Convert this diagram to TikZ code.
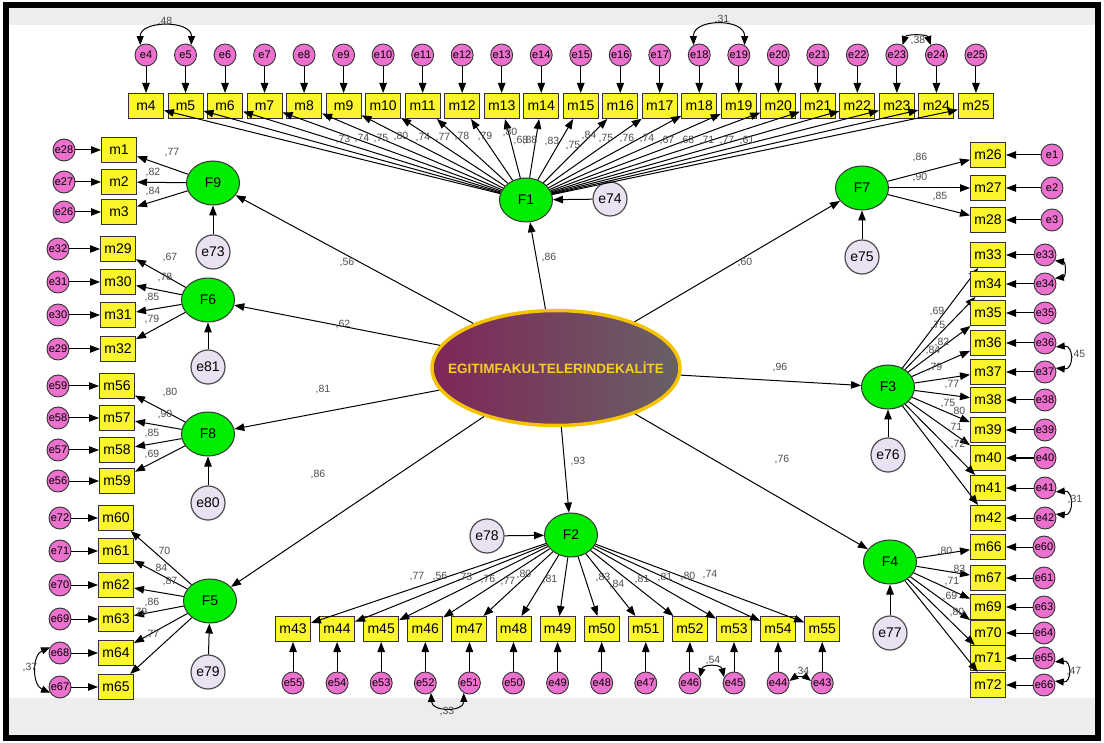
\documentclass[tikz,border=0pt]{standalone}
\usepackage{fontspec}
\setmainfont{Liberation Sans}
\usetikzlibrary{arrows.meta,shapes.geometric}
\definecolor{errpink}{RGB}{236,112,205}
\definecolor{lav}{RGB}{234,226,243}
\definecolor{facgreen}{RGB}{0,236,0}
\definecolor{boxyel}{RGB}{250,245,45}
\definecolor{cgold}{RGB}{245,195,0}
\definecolor{ctext}{RGB}{245,205,40}
\definecolor{cleft}{RGB}{128,38,88}
\definecolor{cright}{RGB}{104,96,102}
\begin{document}
\begin{tikzpicture}[x=1pt,y=-1pt,
  ind/.style={draw=black!80, fill=boxyel, line width=1pt, minimum width=35pt, minimum height=25pt, inner sep=0pt, font=\fontsize{14}{14}\selectfont},
  err/.style={circle, draw=black!80, fill=errpink, line width=0.9pt, minimum size=22pt, inner sep=0pt, font=\fontsize{11}{11}\selectfont},
  lerr/.style={circle, draw=black!70, fill=lav, line width=1.2pt, minimum size=34pt, inner sep=0pt, font=\fontsize{14}{14}\selectfont},
  fac/.style={ellipse, draw=black!80, fill=facgreen, line width=1pt, minimum width=53pt, minimum height=44pt, inner sep=0pt, font=\fontsize{14}{14}\selectfont},
  arr/.style={-{Triangle[length=10pt,width=7.5pt]}, line width=1pt, black},
  cov/.style={{Triangle[length=9pt,width=7pt]}-{Triangle[length=9pt,width=7pt]}, line width=1pt, black},
  lbl/.style={font=\fontsize{10.5}{10.5}\selectfont, text=black!70, inner sep=0pt},
]
% frame
\fill[white] (0,0) rectangle (1104,743);
\fill[black!7] (9,8) rectangle (1095,25);
\fill[black!7] (9,698) rectangle (1095,735);
\draw[line width=6pt] (6,5.5) rectangle (1098,738);
\useasboundingbox (0,0) rectangle (1104,743);

% central
\node[ellipse, minimum width=248pt, minimum height=115pt, draw=cgold, line width=3.5pt,
  left color=cleft, right color=cright, inner sep=0pt] (C) at (556,368) {};
\node[text=ctext, inner sep=0pt, font=\bfseries\fontsize{13.5}{13.5}\selectfont] (CT) at (556,368) {EGITIMFAKULTELERINDEKALİTE};

% factors
\node[fac] (F1) at (526,200) {F1};
\node[fac] (F9) at (213,183) {F9};
\node[fac] (F6) at (208,300) {F6};
\node[fac] (F8) at (208,434) {F8};
\node[fac] (F5) at (210,601) {F5};
\node[fac] (F2) at (571,535) {F2};
\node[fac] (F7) at (862,188) {F7};
\node[fac] (F3) at (888,387) {F3};
\node[fac] (F4) at (890,562) {F4};

% latent errors
\node[lerr] (e74) at (610,199) {e74};
\node[lerr] (e73) at (213,252) {e73};
\node[lerr] (e81) at (208,367) {e81};
\node[lerr] (e80) at (208,503) {e80};
\node[lerr] (e79) at (208,672) {e79};
\node[lerr] (e78) at (487,536) {e78};
\node[lerr] (e75) at (862,257) {e75};
\node[lerr] (e76) at (888,455) {e76};
\node[lerr] (e77) at (890,633) {e77};
\foreach \a/\b in {e74/F1,e73/F9,e81/F6,e80/F8,e79/F5,e78/F2,e75/F7,e76/F3,e77/F4}
  \draw[arr] (\a) -- (\b);

% structural paths
\foreach \b in {F1,F9,F6,F8,F5,F2,F7,F3,F4}
  \draw[arr] (C) -- (\b);
\node[lbl] at (549,258) {,86};
\node[lbl] at (347,263) {,56};
\node[lbl] at (343,325) {,62};
\node[lbl] at (323,390) {,81};
\node[lbl] at (318,475) {,86};
\node[lbl] at (578,462) {,93};
\node[lbl] at (745,263) {,60};
\node[lbl] at (780,368) {,96};
\node[lbl] at (782,460) {,76};

% top row F1
\foreach \i in {4,...,25} {
  \pgfmathsetmacro\xx{146+(\i-4)*39.52}
  \node[ind] (m\i) at (\xx,106) {m\i};
  \node[err] (e\i) at (\xx,55) {e\i};
  \draw[arr] (e\i) -- (m\i);
}
\foreach \i in {4,...,25} \draw[arr] (F1) -- (m\i);
\foreach \t/\x/\y in {73/343/140,74/362/139,75/381/139,80/401/137,74/423/138,77/443/138,78/462/137,79/485/137,80/510/133,68/521/141,88/530/141,83/552/142,75/573/146,84/589/136,75/606/139,76/627/139,74/647/139,67/667/141,68/687/141,71/707/141,77/727/141,61/747/141}
  \node[lbl] at (\x,\y) {,\t};
\draw[cov] (e4.120) .. controls (140,20) and (192,20) .. (e5.60);
\node[lbl] at (165,22) {,48};
\draw[cov] (e18.120) .. controls (693,18) and (745,18) .. (e19.60);
\node[lbl] at (722,20) {,31};
\draw[cov] (e23.60) .. controls (906,34) and (927,34) .. (e24.120);
\node[lbl] at (918,41) {,38};

% F9
\foreach \m/\e/\y in {1/28/150,2/27/182,3/26/212} {
  \node[ind] (m\m) at (119,\y) {m\m};
  \node[err] (e\e) at (64,\y) {e\e};
  \draw[arr] (e\e) -- (m\m);
  \draw[arr] (F9) -- (m\m);
}
\node[lbl] at (172,153) {,77};
\node[lbl] at (153,173) {,82};
\node[lbl] at (153,192) {,84};

% F6
\foreach \m/\e/\y in {29/32/249,30/31/282,31/30/315,32/29/349} {
  \node[ind] (m\m) at (118,\y) {m\m};
  \node[err] (e\e) at (58,\y) {e\e};
  \draw[arr] (e\e) -- (m\m);
  \draw[arr] (F6) -- (m\m);
}
\node[lbl] at (170,258) {,67};
\node[lbl] at (165,278) {,78};
\node[lbl] at (152,298) {,85};
\node[lbl] at (152,320) {,79};

% F8
\foreach \m/\e/\y in {56/59/386,57/58/418,58/57/450,59/56/481} {
  \node[ind] (m\m) at (117,\y) {m\m};
  \node[err] (e\e) at (58,\y) {e\e};
  \draw[arr] (e\e) -- (m\m);
  \draw[arr] (F8) -- (m\m);
}
\node[lbl] at (170,393) {,80};
\node[lbl] at (165,415) {,90};
\node[lbl] at (152,434) {,85};
\node[lbl] at (152,455) {,69};

% F5
\foreach \m/\e/\y in {60/72/518,61/71/551,62/70/585,63/69/619,64/68/653,65/67/687} {
  \node[ind] (m\m) at (116,\y) {m\m};
  \node[err] (e\e) at (60,\y) {e\e};
  \draw[arr] (e\e) -- (m\m);
  \draw[arr] (F5) -- (m\m);
}
\node[lbl] at (163,552) {,70};
\node[lbl] at (160,569) {,84};
\node[lbl] at (170,582) {,87};
\node[lbl] at (152,603) {,86};
\node[lbl] at (140,613) {,79};
\node[lbl] at (152,635) {,77};
\draw[cov] (e68.150) .. controls (32,655) and (32,685) .. (e67.210);
\node[lbl] at (30,668) {,37};

% F7
\foreach \m/\e/\y in {26/1/155,27/2/188,28/3/220} {
  \node[ind] (m\m) at (988,\y) {m\m};
  \node[err] (e\e) at (1052,\y) {e\e};
  \draw[arr] (e\e) -- (m\m);
  \draw[arr] (F7) -- (m\m);
}
\node[lbl] at (920,158) {,86};
\node[lbl] at (920,178) {,90};
\node[lbl] at (940,197) {,85};

% F3
\foreach \m/\y in {33/255,34/284,35/313,36/343,37/372,38/400,39/430,40/458,41/488,42/518} {
  \node[ind] (m\m) at (988,\y) {m\m};
  \node[err] (e\m) at (1045,\y) {e\m};
  \draw[arr] (e\m) -- (m\m);
  \draw[arr] (F3) -- (m\m);
}
\foreach \t/\x/\y in {69/937/312,75/938/326,82/942/343,84/933/351,79/935/368,77/952/385,75/948/404,80/958/412,71/955/428,72/958/445}
  \node[lbl] at (\x,\y) {,\t};
\draw[cov] (e33.-30) .. controls (1066,262) and (1066,277) .. (e34.30);
\draw[cov] (e36.-20) .. controls (1074,345) and (1074,370) .. (e37.20);
\node[lbl] at (1078,355) {,45};
\draw[cov] (e41.-20) .. controls (1074,490) and (1074,516) .. (e42.20);
\node[lbl] at (1075,500) {,31};

% F4
\foreach \m/\e/\y in {66/60/547,67/61/578,69/63/607,70/64/633,71/65/658,72/66/685} {
  \node[ind] (m\m) at (988,\y) {m\m};
  \node[err] (e\e) at (1044,\y) {e\e};
  \draw[arr] (e\e) -- (m\m);
  \draw[arr] (F4) -- (m\m);
}
\foreach \t/\x/\y in {80/945/552,83/958/570,71/952/582,69/950/597,80/957/613}
  \node[lbl] at (\x,\y) {,\t};
\draw[cov] (e65.-20) .. controls (1072,660) and (1072,683) .. (e66.20);
\node[lbl] at (1074,672) {,47};

% F2
\foreach \k in {0,...,12} {
  \pgfmathtruncatemacro\mm{43+\k}
  \pgfmathtruncatemacro\ee{55-\k}
  \pgfmathsetmacro\xx{293+\k*44.1}
  \node[ind] (m\mm) at (\xx,629) {m\mm};
  \node[err] (e\ee) at (\xx,683) {e\ee};
  \draw[arr] (e\ee) -- (m\mm);
}
\foreach \k in {43,...,55} \draw[arr] (F2) -- (m\k);
\foreach \t/\x/\y in {77/417/577,56/440/577,73/465/578,76/488/580,77/508/582,80/524/575,81/550/580,83/603/578,84/617/585,81/642/580,81/665/578,80/688/577,74/710/575}
  \node[lbl] at (\x,\y) {,\t};
\draw[cov] (e52.-60) .. controls (432,712) and (464,712) .. (e51.-120);
\node[lbl] at (447,712) {,33};
\draw[cov] (e46.30) .. controls (703,664) and (721,664) .. (e45.150);
\node[lbl] at (713,661) {,54};
\draw[cov] (e44.10) .. controls (795,677) and (806,677) .. (e43.170);
\node[lbl] at (802,672) {,34};
\end{tikzpicture}
\end{document}
